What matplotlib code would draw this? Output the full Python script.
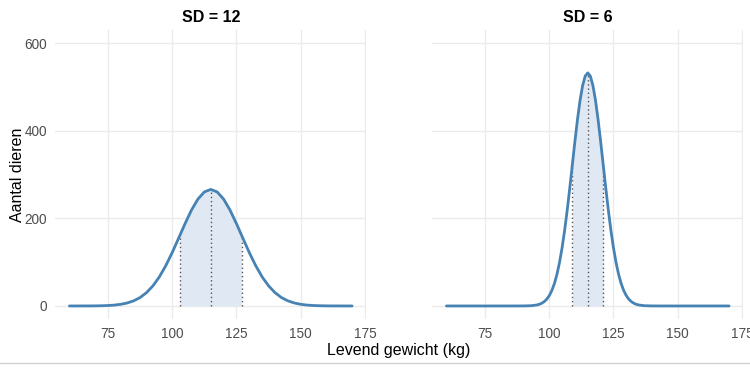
import matplotlib
matplotlib.use('Agg')
import matplotlib.pyplot as plt
import numpy as np

matplotlib.rc('font', family='Liberation Sans')

LINE = '#4682B4'
FILL = '#dfe8f3'
GRID = '#ebebeb'
TICK = '#4d4d4d'

x_sd12 = [60, 62.5, 65, 67.5, 70, 72.5, 75, 77.5, 80, 82.5, 85, 87.5, 90, 92.5, 95, 97.5,
          100, 103, 105, 107.5, 110, 112.5, 115, 117.5, 120, 122.5, 125, 127, 130, 132.5,
          135, 137.5, 140, 142.5, 145, 147.5, 150, 152.5, 155, 157.5, 160, 162.5, 165,
          167.5, 170]
y_sd12 = [0.0, 0.0, 0.1, 0.1, 0.2, 0.5, 1.0, 2.0, 3.8, 6.8, 11.7, 19.2, 30.4, 45.9, 66.3, 91.9,
          121.8, 161.3, 187.9, 218.8, 243.9, 260.2, 266.0, 260.2, 243.9, 218.8, 187.9, 161.3,
          121.8, 91.9, 66.3, 45.9, 30.4, 19.2, 11.7, 6.8, 3.8, 2.0, 1.0, 0.5, 0.2, 0.1, 0.1,
          0.0, 0.0]

x_sd6 = [60, 70, 80, 85, 90, 93, 95, 96, 97, 98, 99, 100, 101, 102, 103, 104, 105, 106, 107,
         108, 109, 110, 111, 112, 113, 114, 115, 116, 117, 118, 119, 120, 121, 122, 123, 124,
         125, 126, 127, 128, 129, 130, 131, 132, 133, 134, 135, 137, 140, 145, 150, 160, 170]
y_sd6 = [0.0, 0.0, 0.0, 0.0, 0.1, 0.6, 2.1, 3.5, 5.9, 9.6, 15.2, 23.4, 35.0, 50.9, 72.0, 99.1,
         132.7, 172.7, 218.7, 269.3, 322.6, 375.8, 425.9, 469.4, 503.2, 524.6, 531.9, 524.6,
         503.2, 469.4, 425.9, 375.8, 322.6, 269.3, 218.7, 172.7, 132.7, 99.1, 72.0, 50.9,
         35.0, 23.4, 15.2, 9.6, 5.9, 3.5, 2.1, 0.6, 0.1, 0.0, 0.0, 0.0, 0.0]

panels = [('SD = 12', x_sd12, y_sd12, [103, 115, 127]),
          ('SD = 6', x_sd6, y_sd6, [109, 115, 121])]

x_ticks = [75, 100, 125, 150, 175]
y_ticks = [0, 200, 400, 600]

fig = plt.figure(figsize=(7.5, 3.67), dpi=100)
ax_l = fig.add_axes([0.0737, 0.1305, 0.4146, 0.788])
ax_r = fig.add_axes([0.5764, 0.1305, 0.4146, 0.788], sharey=ax_l)

for ax, (title, xs, ys, marks) in zip([ax_l, ax_r], panels):
    xs = np.array(xs)
    ys = np.array(ys)
    inside = (xs >= marks[0]) & (xs <= marks[-1])
    ax.fill_between(xs[inside], 0, ys[inside], color=FILL, lw=0, zorder=1)
    for m in marks:
        ax.vlines(m, 0, ys[xs == m][0], colors='#555555', linestyles=(0, (1, 2)),
                  lw=1.0, zorder=2)
    ax.plot(xs, ys, color=LINE, lw=2.0, solid_capstyle='round', zorder=3)

    ax.set_xlim(54.5, 175.5)
    ax.set_ylim(-30, 630)
    ax.set_xticks(x_ticks)
    ax.set_yticks(y_ticks)
    ax.grid(True, color=GRID, lw=1.0, zorder=0)
    ax.set_axisbelow(True)
    for s in ax.spines.values():
        s.set_visible(False)
    ax.tick_params(length=0, labelsize=9.8, labelcolor=TICK, pad=6)
    ax.set_title(title, fontsize=11.5, fontweight='bold', pad=6)

ax_r.tick_params(labelleft=False)

ax_l.set_ylabel('Aantal dieren', fontsize=11.5)
ax_l.yaxis.set_label_coords(-0.097, 0.5)
fig.text(0.531, 0.045, 'Levend gewicht (kg)', fontsize=11.5, ha='center', va='center')

# dunne grijze rand onderaan
fig.add_artist(matplotlib.lines.Line2D([0, 1], [0.012, 0.012], color='#d0d0d0', lw=1.0))

plt.savefig('out.png', dpi=100)
plt.close()
